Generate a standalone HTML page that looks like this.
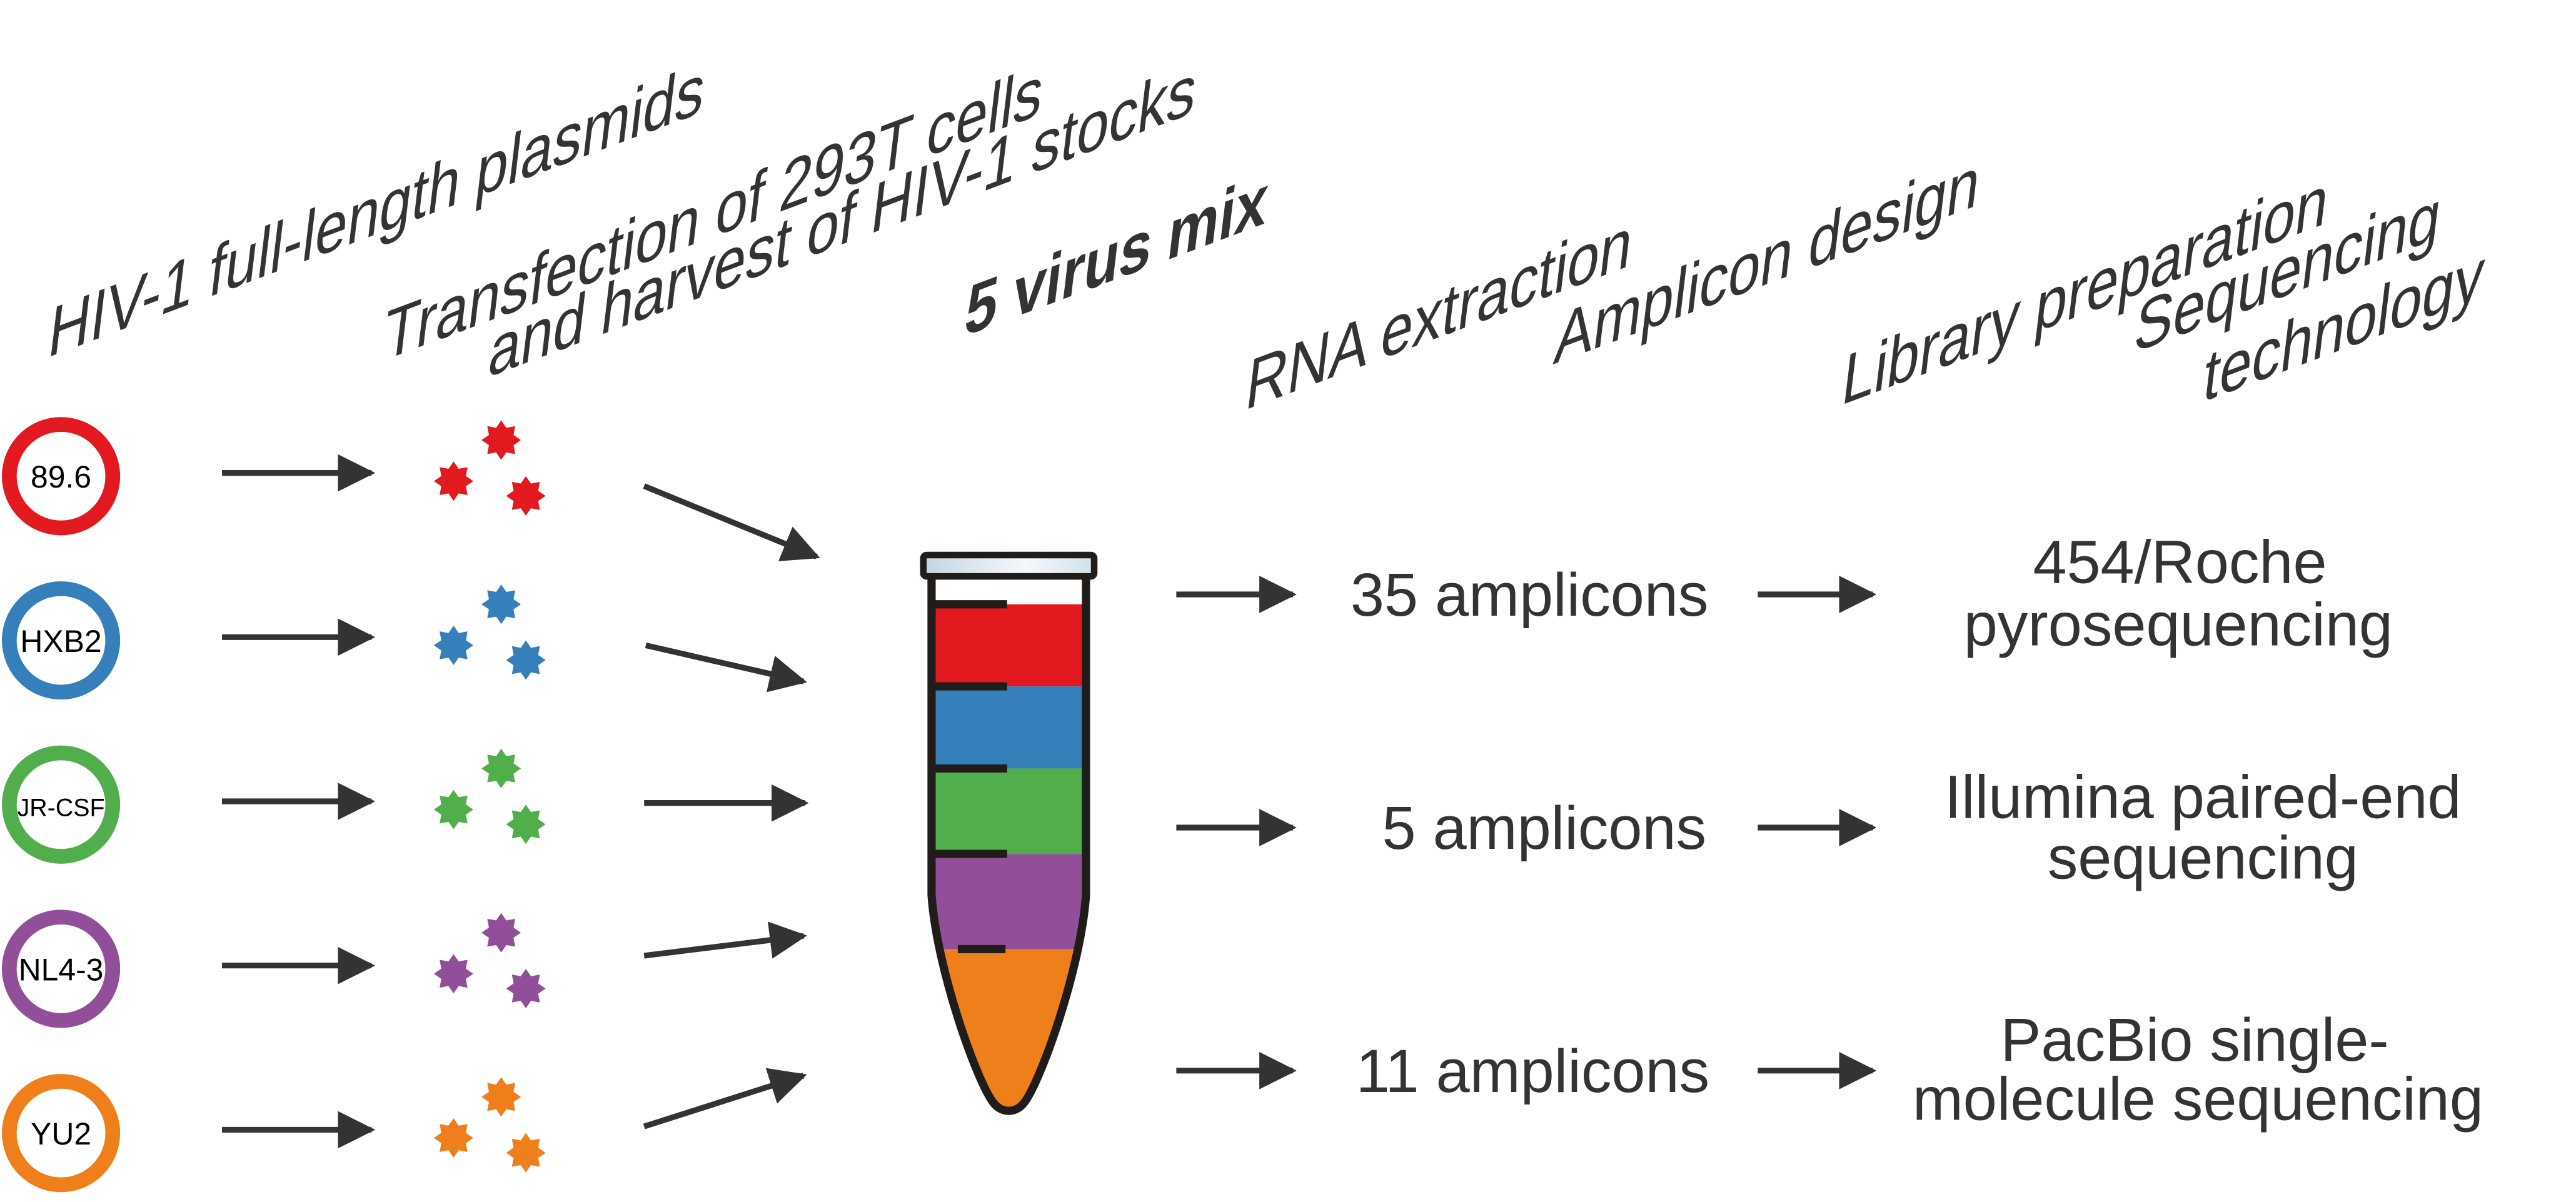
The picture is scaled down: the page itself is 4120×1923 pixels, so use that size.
<!DOCTYPE html>
<html><head><meta charset="utf-8"><style>
html,body{margin:0;padding:0;background:#fff;}
svg{display:block;}
text{font-family:"Liberation Sans",sans-serif;fill:#333;}
</style></head><body>
<svg width="4120" height="1923" viewBox="0 0 1568 732" xmlns="http://www.w3.org/2000/svg">
<defs>
<marker id="ah" viewBox="0 0 10 10" refX="9" refY="5" markerWidth="6.5" markerHeight="6.5" orient="auto" markerUnits="strokeWidth"><path d="M0,0 L10,5 L0,10 z" fill="#333"/></marker>
<linearGradient id="cap" x1="0" x2="1"><stop offset="0" stop-color="#c4d5e0"/><stop offset="0.6" stop-color="#f5f8fb"/><stop offset="1" stop-color="#d2e0ea"/></linearGradient>
<clipPath id="tubeclip"><path d="M567,350 L567,545 C570,590 595,660 605,672 C610,678 618,678 623,672 C633,660 658,590 661,545 L661,350 z"/></clipPath>
</defs>

<g font-size="44">
<text transform="matrix(0.8,-0.3,-0.12,1,28,218)">HIV-1 full-length plasmids</text>
<text transform="matrix(0.8,-0.3,-0.12,1,232,220)">Transfection of 293T cells</text>
<text transform="matrix(0.8,-0.3,-0.12,1,296,230)">and harvest of HIV-1 stocks</text>
<text font-weight="bold" transform="matrix(0.8,-0.3,-0.12,1,586,205)">5 virus mix</text>
<text transform="matrix(0.8,-0.3,-0.12,1,757,250)">RNA extraction</text>
<text transform="matrix(0.8,-0.3,-0.12,1,945,222)">Amplicon design</text>
<text transform="matrix(0.8,-0.3,-0.12,1,1120,247)">Library preparation</text>
<text transform="matrix(0.8,-0.3,-0.12,1,1298,215)">Sequencing</text>
<text transform="matrix(0.8,-0.3,-0.12,1,1340,245)">technology</text>
</g>

<g id="rows"></g>

<g>
<g clip-path="url(#tubeclip)">
<rect x="560" y="368" width="110" height="50" fill="#e2191f"/>
<rect x="560" y="418" width="110" height="50" fill="#357fba"/>
<rect x="560" y="468" width="110" height="52" fill="#50af4b"/>
<rect x="560" y="520" width="110" height="58" fill="#924f99"/>
<rect x="560" y="578" width="110" height="110" fill="#ef7f1a"/>
</g>
<path d="M567,350 L567,545 C570,590 595,660 605,672 C610,678 618,678 623,672 C633,660 658,590 661,545 L661,350" fill="none" stroke="#201c19" stroke-width="5"/>
<rect x="562" y="338" width="104" height="13" rx="2" fill="url(#cap)" stroke="#201c19" stroke-width="4"/>
<g stroke="#201c19" stroke-width="5">
<line x1="567" y1="368" x2="613" y2="368"/><line x1="567" y1="418" x2="613" y2="418"/><line x1="567" y1="468" x2="613" y2="468"/><line x1="568" y1="520" x2="613" y2="520"/><line x1="583" y1="578" x2="612" y2="578"/>
</g>
</g>

<g stroke="#333" stroke-width="3.5" marker-end="url(#ah)">
<line x1="392" y1="296" x2="497" y2="339"/>
<line x1="393" y1="393" x2="489" y2="415"/>
<line x1="392" y1="489" x2="490" y2="489"/>
<line x1="392" y1="582" x2="489" y2="570"/>
<line x1="392" y1="686" x2="489" y2="655"/>
<line x1="716" y1="362" x2="787" y2="362"/>
<line x1="716" y1="504" x2="787" y2="504"/>
<line x1="716" y1="652" x2="787" y2="652"/>
<line x1="1070" y1="362" x2="1140" y2="362"/>
<line x1="1070" y1="504" x2="1140" y2="504"/>
<line x1="1070" y1="652" x2="1140" y2="652"/>
</g>

<g font-size="37" text-anchor="middle">
<text x="931" y="375">35 amplicons</text>
<text x="940" y="517">5 amplicons</text>
<text x="933" y="665">11 amplicons</text>
<text x="1327" y="355">454/Roche</text>
<text x="1326" y="393">pyrosequencing</text>
<text x="1341" y="498">Illumina paired-end</text>
<text x="1341" y="535">sequencing</text>
<text x="1336" y="646">PacBio single-</text>
<text x="1338" y="682">molecule sequencing</text>
</g>
</svg>
<script>
const strains = ["89.6","HXB2","JR-CSF","NL4-3","YU2"];
const colors = ["#e2191f","#357fba","#50af4b","#924f99","#ef7f1a"];
const rowY = [290,390,490,590,690];
const NS="http://www.w3.org/2000/svg";
const g=document.getElementById('rows');
function star(cx,cy,r){let p=[];for(let i=0;i<16;i++){const rr=i%2?r*0.68:r;const a=Math.PI*i/8-Math.PI/2;p.push((cx+rr*Math.cos(a)).toFixed(1)+','+(cy+rr*Math.sin(a)).toFixed(1));}return p.join(' ');}
strains.forEach((s,i)=>{
 const y=rowY[i];
 const c=document.createElementNS(NS,'circle');
 
 
 c.setAttribute('cx',37);c.setAttribute('cy',y);c.setAttribute('r',31.5);
 c.setAttribute('fill','#fff');c.setAttribute('stroke',colors[i]);c.setAttribute('stroke-width',9);
 g.appendChild(c);
 const t=document.createElementNS(NS,'text');
 
 
 t.setAttribute('x',37);t.setAttribute('y',y+7);t.setAttribute('text-anchor','middle');
 t.setAttribute('font-size',s.length>5?15:19);t.setAttribute('style','fill:#000');
 t.textContent=s;g.appendChild(t);
 const a=document.createElementNS(NS,'line');
 
 
 a.setAttribute('x1',135);a.setAttribute('y1',y-2);a.setAttribute('x2',226);a.setAttribute('y2',y-2);
 a.setAttribute('stroke','#333');a.setAttribute('stroke-width',3.5);a.setAttribute('marker-end','url(#ah)');
 g.appendChild(a);
 [[305,y-22],[276,y+3],[320,y+12]].forEach(([x,yy])=>{
  const p=document.createElementNS(NS,'polygon');
  
  
  p.setAttribute('points',star(x,yy,12));p.setAttribute('fill',colors[i]);
  g.appendChild(p);
 });
});
</script>
</body></html>
